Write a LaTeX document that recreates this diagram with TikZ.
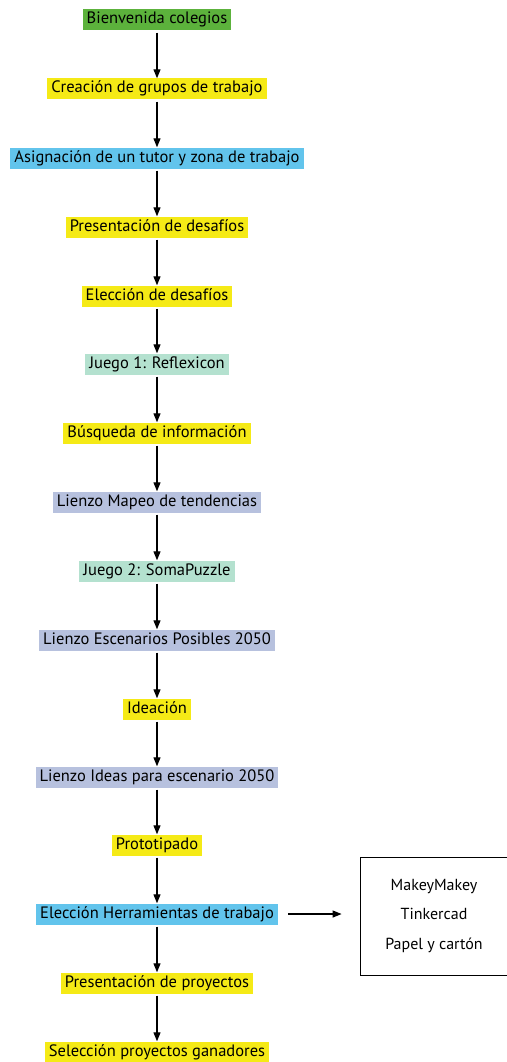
\documentclass[tikz,border=0pt]{standalone}
\usepackage{fontspec}
\setmainfont{PT Sans}
\usetikzlibrary{arrows.meta}

\definecolor{verde}{RGB}{92,178,60}
\definecolor{amarillo}{RGB}{245,234,22}
\definecolor{celeste}{RGB}{98,196,236}
\definecolor{menta}{RGB}{180,225,207}
\definecolor{lavanda}{RGB}{183,193,222}

\tikzset{
  etapa/.style={fill=#1, inner xsep=4pt, inner ysep=0pt, minimum height=21pt,
    text height=11.5pt, text depth=3.5pt, font=\fontsize{16.5}{18}\selectfont},
  flecha/.style={-{Triangle[width=7pt,length=9pt]}, line width=1.2pt, shorten <=2pt}
}

\begin{document}
\begin{tikzpicture}[x=1pt,y=-1pt]

\useasboundingbox (0,0) rectangle (506,1062);

% etapas
\node[etapa=verde]    (bienvenida) at (157,20)   {Bienvenida colegios};
\node[etapa=amarillo] (grupos)     at (157,89)   {Creación de grupos de trabajo};
\node[etapa=celeste]  (tutor)      at (157,158)  {Asignación de un tutor y zona de trabajo};
\node[etapa=amarillo] (presdes)    at (157,227)  {Presentación de desafíos};
\node[etapa=amarillo] (elecdes)    at (157,296)  {Elección de desafíos};
\node[etapa=menta]    (juego1)     at (157,364)  {Juego 1: Reflexicon};
\node[etapa=amarillo] (busqueda)   at (157,433)  {Búsqueda de información};
\node[etapa=lavanda]  (mapeo)      at (157,502)  {Lienzo Mapeo de tendencias};
\node[etapa=menta]    (juego2)     at (157,571)  {Juego 2: SomaPuzzle};
\node[etapa=lavanda]  (escenarios) at (157,640)  {Lienzo Escenarios Posibles 2050};
\node[etapa=amarillo] (ideacion)   at (157,709)  {Ideación};
\node[etapa=lavanda]  (ideas)      at (157,777)  {Lienzo Ideas para escenario 2050};
\node[etapa=amarillo] (prototipo)  at (157,845)  {Prototipado};
\node[etapa=celeste]  (herram)     at (157,914)  {Elección Herramientas de trabajo};
\node[etapa=amarillo] (presproy)   at (157,983)  {Presentación de proyectos};
\node[etapa=amarillo] (seleccion)  at (157,1052) {Selección proyectos ganadores};

% caja de herramientas
\node[draw, line width=0.8pt, minimum width=148pt, minimum height=118pt,
      align=center, font=\fontsize{16}{29.5}\selectfont] (caja) at (434,916)
      {MakeyMakey\\Tinkercad\\Papel y cartón};

% flechas
\foreach \a/\b in {bienvenida/grupos, grupos/tutor, tutor/presdes, presdes/elecdes,
                   elecdes/juego1, juego1/busqueda, busqueda/mapeo, mapeo/juego2,
                   juego2/escenarios, escenarios/ideacion, ideacion/ideas,
                   ideas/prototipo, prototipo/herram, herram/presproy, presproy/seleccion}
  \draw[flecha] (\a) -- (\b);

\draw[flecha, shorten <=10pt, shorten >=18pt] (herram.east) -- (herram.east -| caja.west);

\end{tikzpicture}
\end{document}
